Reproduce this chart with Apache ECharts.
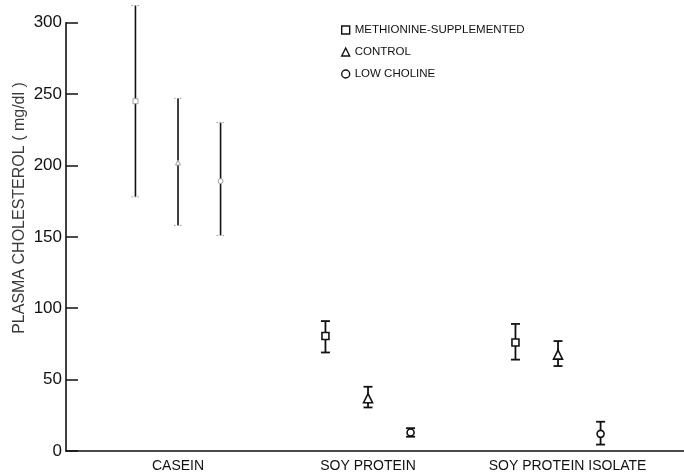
<!DOCTYPE html>
<html>
<head>
<meta charset="utf-8">
<script src="https://cdn.jsdelivr.net/npm/echarts@6/dist/echarts.min.js"></script>
<style>
  html, body { margin: 0; padding: 0; background: #fff; }
  #chart { width: 684px; height: 473px; }
</style>
</head>
<body>
<div id="chart"></div>
<script>
// Diet groups along the x axis
const categories = ['CASEIN', 'SOY PROTEIN', 'SOY PROTEIN ISOLATE'];
const seriesNames = ['METHIONINE-SUPPLEMENTED', 'CONTROL', 'LOW CHOLINE'];

// Plasma cholesterol (mg/dl): mean, lower and upper error-bar ends
const methMean = [245, 80.5, 76];
const methLow  = [178, 69, 64];
const methHigh = [312, 91, 89];

const ctrlMean = [202, 37, 67.5];
const ctrlLow  = [158, 30.5, 59.5];
const ctrlHigh = [247, 45, 77];

const lowMean = [189, 13, 12];
const lowLow  = [151, 10, 4.5];
const lowHigh = [230, 16, 20.5];

const yTicks = [0, 50, 100, 150, 200, 250, 300];

// where the group names sit along the x axis (the last one is hand-lettered a bit to the right)
const labelPositions = [0, 1, 2.05];

const INK = '#111';
const groupOffset = 0.224;          // spacing of the three diets inside a group
const symbols = ['rect', 'triangle', 'circle'];
const symbolSizes = [7, 9, 7];

const means = [methMean, ctrlMean, lowMean];
const lows = [methLow, ctrlLow, lowLow];
const highs = [methHigh, ctrlHigh, lowHigh];

const chart = echarts.init(document.getElementById('chart'), null, { renderer: 'canvas' });

const series = [];
seriesNames.forEach((name, s) => {
  const off = (s - 1) * groupOffset;
  // whiskers
  series.push({
    type: 'custom',
    name: name + ' range',
    z: 2,
    clip: false,
    data: categories.map((c, i) => [i + off, lows[s][i], highs[s][i], i]),
    renderItem: function (params, api) {
      const x = api.value(0);
      const lo = api.coord([x, api.value(1)]);
      const hi = api.coord([x, api.value(2)]);
      const faint = api.value(3) === 0;
      const cap = faint ? 4 : 4.5;
      const capStyle = faint
        ? { stroke: '#9a9a9a', lineWidth: 1, lineDash: [1.5, 1.5] }
        : { stroke: INK, lineWidth: 1.8 };
      return {
        type: 'group',
        children: [
          { type: 'line', shape: { x1: lo[0], y1: lo[1], x2: hi[0], y2: hi[1] },
            style: { stroke: INK, lineWidth: faint ? 1.6 : 1.8 } },
          { type: 'line', shape: { x1: hi[0] - cap, y1: hi[1], x2: hi[0] + cap, y2: hi[1] },
            style: capStyle },
          { type: 'line', shape: { x1: lo[0] - cap, y1: lo[1], x2: lo[0] + cap, y2: lo[1] },
            style: capStyle }
        ]
      };
    }
  });
  // means
  series.push({
    type: 'scatter',
    name: name,
    z: 3,
    clip: false,
    symbol: symbols[s],
    symbolSize: symbolSizes[s],
    itemStyle: { color: '#fff', borderColor: INK, borderWidth: 1.6, opacity: 1 },
    data: categories.map((c, i) => {
      const item = { value: [i + off, means[s][i]] };
      if (i === 0) {
        item.symbolSize = 5;
        item.itemStyle = { color: '#fff', borderColor: '#a0a0a0', borderWidth: 1 };
      }
      return item;
    })
  });
});

const option = {
  backgroundColor: '#fff',
  animation: false,
  textStyle: { fontFamily: 'Liberation Sans, Arial, sans-serif' },
  grid: { left: 66, right: 0, top: 22.7, bottom: 19, containLabel: false },
  legend: {
    data: seriesNames.map(n => ({ name: n, icon: symbols[seriesNames.indexOf(n)] })),
    orient: 'vertical',
    left: 336,
    top: 19,
    itemWidth: 8,
    itemHeight: 8,
    itemGap: 10,
    selectedMode: false,
    textStyle: { fontSize: 11.5, color: INK, fontFamily: 'Liberation Sans, Arial, sans-serif' },
    itemStyle: { color: '#fff', borderColor: INK, borderWidth: 1.4 }
  },
  xAxis: {
    type: 'value',
    min: -0.5895,
    max: 2.663,
    splitLine: { show: false },
    axisLine: { show: true, onZero: false, lineStyle: { color: INK, width: 1.6 } },
    axisTick: { show: false },
    axisLabel: {
      customValues: labelPositions,
      formatter: v => categories[labelPositions.indexOf(v)] || '',
      color: INK,
      fontSize: 14,
      margin: 8
    }
  },
  yAxis: {
    type: 'value',
    min: 0,
    max: 300,
    interval: 50,
    splitLine: { show: false },
    axisLine: { show: true, onZero: false, lineStyle: { color: INK, width: 1.6 } },
    axisTick: { show: true, inside: true, length: 12, lineStyle: { color: INK, width: 1.5 } },
    axisLabel: {
      color: INK,
      fontSize: 17,
      margin: 4,
      formatter: v => (yTicks.indexOf(v) >= 0 ? String(v) : '')
    }
  },
  graphic: [{
    type: 'text',
    x: 20,
    y: 208,
    rotation: Math.PI / 2,
    style: {
      text: 'PLASMA CHOLESTEROL ( mg/dl )',
      fill: '#3a3a3a',
      font: '16px "Liberation Sans", Arial, sans-serif',
      align: 'center',
      verticalAlign: 'middle'
    }
  }],
  series: series
};

chart.setOption(option);
</script>
</body>
</html>
